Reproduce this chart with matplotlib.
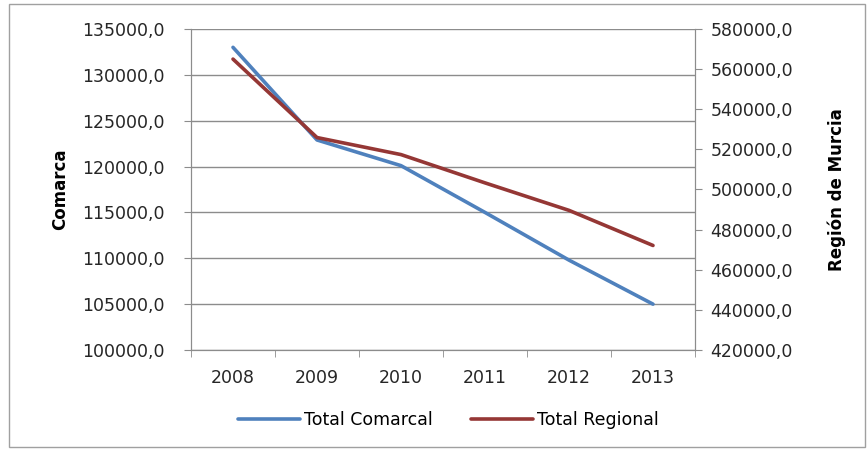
import matplotlib

matplotlib.use("Agg")
import matplotlib.pyplot as plt
from matplotlib.patches import Rectangle
from matplotlib.ticker import FixedLocator, FuncFormatter

YEARS = ["2008", "2009", "2010", "2011", "2012", "2013"]
COMARCAL = [133000, 122900, 120100, 115000, 109800, 105000]
REGIONAL = [565000, 525900, 517400, 503300, 489600, 472100]
LEFT_TICKS = [100000, 105000, 110000, 115000, 120000, 125000, 130000, 135000]
RIGHT_TICKS = [420000, 440000, 460000, 480000, 500000, 520000, 540000, 560000, 580000]

BLUE = "#4F81BD"
RED = "#953735"
GRID = "#8C8C8C"
TXT = "#262626"

plt.rcParams["font.family"] = ["DejaVu Sans"]


def comma(v, _pos=None):
    return f"{v:.1f}".replace(".", ",")


def main():
    fig = plt.figure(figsize=(8.67, 4.5), dpi=100)
    ax = fig.add_axes([191 / 867, 1 - 350 / 450, (695 - 191) / 867, (350 - 29) / 450])
    ax2 = ax.twinx()

    x = list(range(len(YEARS)))
    ax.plot(x, COMARCAL, color=BLUE, lw=2.6, label="Total Comarcal",
            solid_capstyle="round")
    ax2.plot(x, REGIONAL, color=RED, lw=2.6, label="Total Regional",
             solid_capstyle="round")

    ax.set_xlim(-0.5, 5.5)
    ax.set_ylim(100000, 135000)
    ax2.set_ylim(420000, 580000)
    ax.set_yticks(LEFT_TICKS)
    ax2.set_yticks(RIGHT_TICKS)
    ax.yaxis.set_major_formatter(FuncFormatter(comma))
    ax2.yaxis.set_major_formatter(FuncFormatter(comma))
    ax.grid(axis="y", color=GRID, lw=1.0)
    ax.set_axisbelow(True)

    ax.set_xticks(x)
    ax.set_xticklabels(YEARS)
    ax.xaxis.set_minor_locator(FixedLocator([i - 0.5 for i in range(len(YEARS) + 1)]))
    ax.tick_params(axis="x", which="major", length=0, pad=14, labelsize=12.5, colors=TXT)
    ax.tick_params(axis="x", which="minor", length=5, color=GRID, direction="out")
    ax.tick_params(axis="y", length=5, color=GRID, labelsize=12.5, labelcolor=TXT, pad=14)
    ax2.tick_params(axis="y", length=5, color=GRID, labelsize=12.5, labelcolor=TXT, pad=6)

    for a in (ax, ax2):
        a.spines["top"].set_visible(False)
        for s in ("left", "right", "bottom"):
            a.spines[s].set_color(GRID)

    ax.set_ylabel("Comarca", fontsize=12, fontweight="bold", color="black", labelpad=9)
    ax2.set_ylabel("Región de Murcia", fontsize=12, fontweight="bold", color="black",
                   labelpad=25)

    handles = ax.get_lines()[:1] + ax2.get_lines()[:1]
    fig.legend(handles, [h.get_label() for h in handles], loc="center",
               bbox_to_anchor=(448 / 867, 1 - 420 / 450), ncol=2, frameon=False,
               fontsize=12.5, handlelength=3.6, handletextpad=0.2, columnspacing=2.2)

    fig.patches.append(Rectangle((9 / 867, 3 / 450), 856 / 867, 443 / 450,
                                 transform=fig.transFigure, fill=False,
                                 edgecolor="#A0A0A0", lw=1.0))
    fig.savefig("out.png", dpi=100)


if __name__ == "__main__":
    main()
